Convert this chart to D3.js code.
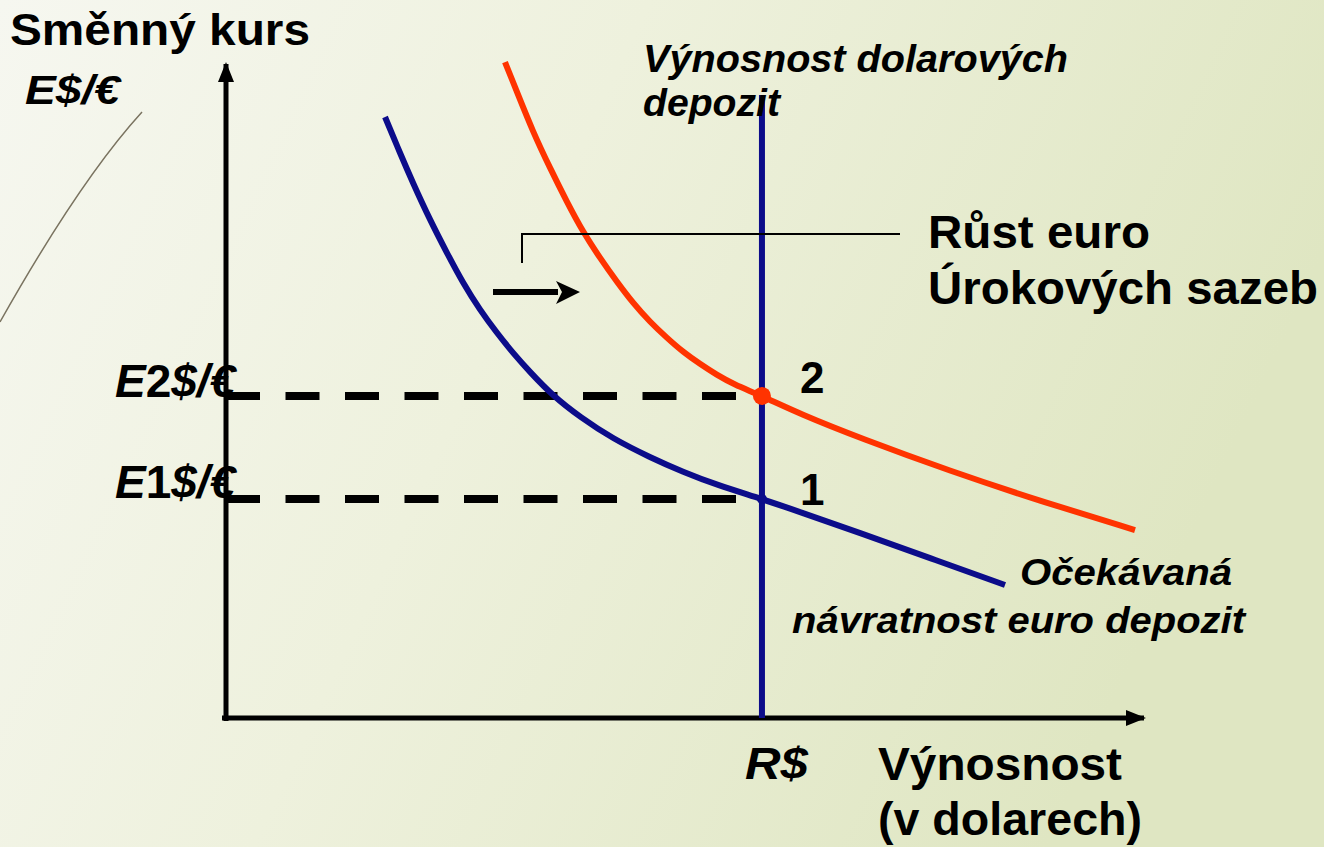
<!DOCTYPE html>
<html>
<head>
<meta charset="utf-8">
<script src="https://cdn.jsdelivr.net/npm/d3@7"></script>
<style>
  body { margin: 0; }
  svg text { font-family: "Liberation Sans", Arial, sans-serif; font-weight: bold; }
</style>
</head>
<body>
<div id="chart"></div>
<script>
// data (return in %, exchange rate in arbitrary units)
const euroReturnOld = [[17.25, 91.06], [18.87, 85.61], [20.28, 81.06], [22.13, 75.45], [23.97, 70.45], [25.70, 65.91], [27.55, 61.82], [29.39, 58.33], [31.13, 55.30], [32.97, 52.42], [35.47, 48.79], [38.39, 45.61], [41.97, 42.30], [45.99, 39.50], [49.57, 37.27], [53.25, 35.30], [58.13, 33.18], [62.26, 31.21], [68.76, 28.03], [76.36, 24.24], [84.49, 20.15]];
const euroReturnNew = [[30.26, 99.39], [31.56, 94.85], [33.30, 88.79], [35.14, 83.33], [36.98, 78.18], [38.72, 73.64], [40.56, 69.70], [42.41, 66.06], [44.14, 62.88], [45.99, 60.00], [47.83, 57.58], [49.57, 55.45], [51.41, 53.64], [53.25, 51.97], [54.99, 50.61], [58.13, 48.79], [62.26, 46.06], [68.76, 42.42], [78.52, 37.42], [88.29, 32.88], [98.59, 28.48]];
const dollarReturn = 58.13;
const rateLevels = [{ name: "1", value: 33.18 }, { name: "2", value: 48.79 }];

const W = 1324, H = 847;
const margin = { top: 58, right: 176, bottom: 129, left: 226 };

const svg = d3.select("#chart").append("svg")
  .attr("width", W).attr("height", H);

//background
const defs = svg.append("defs");
const grad = defs.append("linearGradient").attr("id", "bg")
  .attr("x1", 0).attr("y1", 0).attr("x2", 1).attr("y2", 0.3);
grad.append("stop").attr("offset", "0%").attr("stop-color", "#f6f7f0");
grad.append("stop").attr("offset", "45%").attr("stop-color", "#eef1dd");
grad.append("stop").attr("offset", "100%").attr("stop-color", "#dfe6c2");
svg.append("rect").attr("width", W).attr("height", H).attr("fill", "url(#bg)");

// decorative arc on left
svg.append("path")
  .attr("d", "M142,112 Q80,180 0,322")
  .attr("fill", "none").attr("stroke", "#7a7360").attr("stroke-width", 1.5);

defs.append("marker").attr("id", "ah").attr("viewBox", "0 0 10 10")
  .attr("refX", 9).attr("refY", 5).attr("markerWidth", 4).attr("markerHeight", 4)
  .attr("markerUnits", "strokeWidth").attr("orient", "auto")
  .append("path").attr("d", "M0,1 L10,5 L0,9 Z").attr("fill", "#000");

//scales
const x = d3.scaleLinear().domain([0, 100]).range([margin.left, W - margin.right]);
const y = d3.scaleLinear().domain([0, 100]).range([H - margin.bottom, margin.top]);

//axes
svg.append("line").attr("x1", x(0)).attr("x2", x(0))
  .attr("y1", y(0) + 3).attr("y2", y(100) + 6)
  .attr("stroke", "#000").attr("stroke-width", 5).attr("marker-end", "url(#ah)");
svg.append("line").attr("x1", x(0) - 4).attr("x2", x(100) - 4)
  .attr("y1", y(0)).attr("y2", y(0))
  .attr("stroke", "#000").attr("stroke-width", 5).attr("marker-end", "url(#ah)");

//dashed lines
svg.selectAll(".dash").data(rateLevels).enter().append("line")
  .attr("x1", x(0)).attr("x2", x(dollarReturn))
  .attr("y1", d => y(d.value)).attr("y2", d => y(d.value))
  .attr("stroke", "#000").attr("stroke-width", 8).attr("stroke-dasharray", "34,25.5");

const line = d3.line().x(d => x(d[0])).y(d => y(d[1])).curve(d3.curveBasis);

svg.append("path").datum(euroReturnNew).attr("d", line)
  .attr("fill", "none").attr("stroke", "#ff3300").attr("stroke-width", 6);

//vertical dollar return
svg.append("line").attr("x1", x(dollarReturn)).attr("x2", x(dollarReturn))
  .attr("y1", 95).attr("y2", y(0))
  .attr("stroke", "#0c0c8a").attr("stroke-width", 6);

svg.append("path").datum(euroReturnOld).attr("d", line)
  .attr("fill", "none").attr("stroke", "#0c0c8a").attr("stroke-width", 6);

svg.append("circle").attr("cx", x(dollarReturn)).attr("cy", y(rateLevels[1].value)).attr("r", 9).attr("fill", "#ff3300");
svg.append("circle").attr("cx", x(dollarReturn)).attr("cy", y(rateLevels[0].value)).attr("r", 5).attr("fill", "#0c0c8a");

//point labels
svg.selectAll(".pt").data(rateLevels).enter().append("text")
  .attr("x", 800).attr("y", d => y(d.value) + (d.name === "1" ? 6 : -3))
  .attr("font-size", 44).text(d => d.name);

//bracket + shift arrow
svg.append("path").attr("d", "M522,263 V234 H900")
  .attr("fill", "none").attr("stroke", "#000").attr("stroke-width", 2);
svg.append("line").attr("x1", 493).attr("x2", 558).attr("y1", 292).attr("y2", 292)
  .attr("stroke", "#000").attr("stroke-width", 6);
svg.append("path").attr("d", "M556,281 L580,292 L556,304 L562,292 Z").attr("fill", "#000");

//texts
const txt = (xx, yy, s, size, italic, len) => {
  const t = svg.append("text")
    .attr("x", xx).attr("y", yy).attr("font-size", size)
    .attr("font-style", italic ? "italic" : "normal").text(s);
  if (len) t.attr("textLength", len).attr("lengthAdjust", "spacingAndGlyphs");
  return t;
};

txt(10, 45, "Směnný kurs", 44, false, 300);
txt(25, 104, "E$/€", 40, true, 95);
txt(643, 72, "Výnosnost dolarových", 38, true, 425);
txt(643, 116, "depozit", 38, true, 137);
txt(928, 248, "Růst euro", 46, false, 222);
txt(928, 304, "Úrokových sazeb", 46, false, 390);
txt(1020, 585, "Očekávaná", 36, true, 212);
txt(792, 633, "návratnost euro depozit", 36, true, 453);
txt(745, 779, "R$", 44, true, 63);
txt(878, 780, "Výnosnost", 46, false, 244);
txt(878, 835, "(v dolarech)", 46, false, 264);

rateLevels.forEach(d => {
  const t = svg.append("text").attr("x", 115).attr("y", y(d.value) + (d.name === "1" ? -1 : 1)).attr("font-size", 46);
  t.append("tspan").attr("font-style", "italic").text("E");
  t.append("tspan").text(d.name);
  t.append("tspan").attr("font-style", "italic").text("$/€");
});
</script>
</body>
</html>
